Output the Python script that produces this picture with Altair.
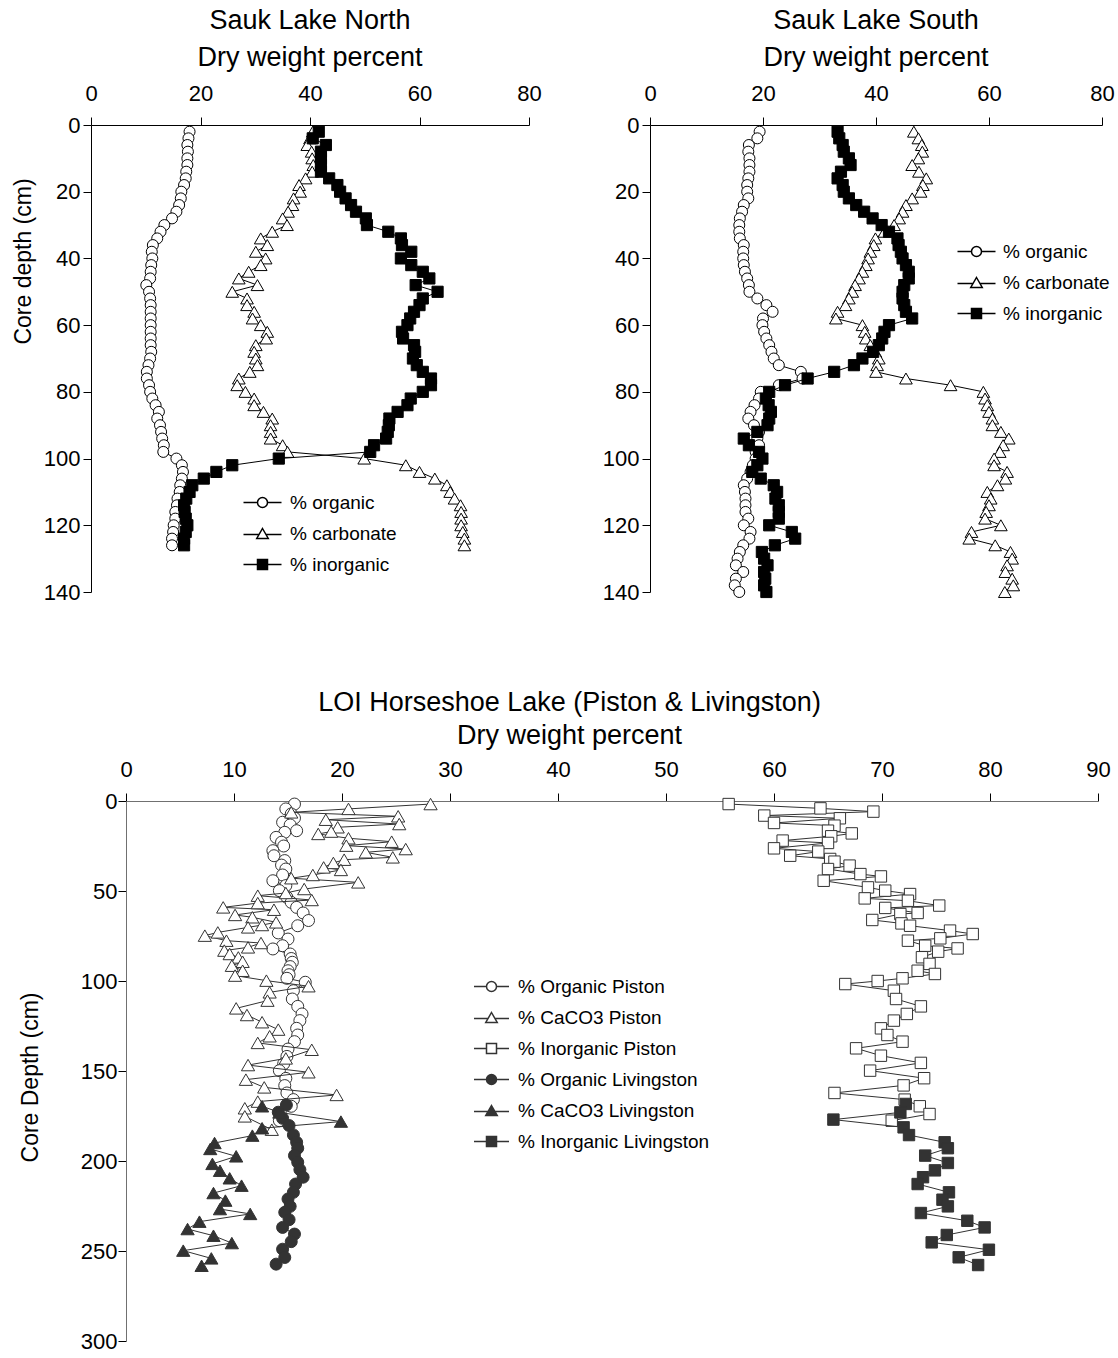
import altair as alt
import pandas as pd

FONT = "Liberation Sans"

# ---------------- Sauk Lake North ----------------
north_depth = list(range(2, 128, 2))
north_organic = [18.0, 17.8, 17.6, 17.7, 17.6, 17.6, 17.4, 17.3, 17.0, 16.5, 16.4, 16.1, 15.6, 14.8, 13.4, 12.7,
                 12.1, 11.3, 11.1, 11.2, 11.0, 10.9, 10.8, 10.1, 10.6, 10.8, 10.9, 10.9, 10.9, 10.9, 10.9, 10.9,
                 10.9, 11.0, 10.8, 10.5, 10.2, 10.2, 10.6, 10.8, 11.2, 11.8, 12.4, 12.1, 12.6, 12.8, 13.0, 13.3,
                 13.2, 15.6, 16.6, 16.8, 16.6, 16.3, 16.2, 15.8, 15.7, 15.4, 15.4, 15.1, 15.0, 14.8, 14.8]
north_carbonate = [40.5, 40.0, 39.5, 40.3, 40.4, 40.6, 40.4, 39.2, 38.0, 38.2, 37.0, 36.8, 36.0, 35.0, 35.8, 33.1,
                   31.0, 32.2, 30.1, 31.9, 31.0, 28.8, 27.0, 30.4, 25.8, 28.5, 28.5, 29.8, 29.5, 31.0, 32.2, 32.0,
                   30.1, 29.8, 30.1, 30.4, 29.0, 27.0, 26.7, 28.2, 29.8, 29.8, 31.5, 33.1, 32.8, 32.8, 32.8, 35.0,
                   35.9, 49.9, 57.5, 60.0, 62.8, 65.0, 65.6, 66.4, 67.5, 67.6, 67.6, 67.6, 67.9, 68.2, 68.2]
north_inorganic = [41.6, 40.5, 42.9, 42.0, 42.0, 42.0, 42.0, 43.5, 45.0, 45.5, 46.5, 47.5, 48.4, 50.2, 50.4, 54.3,
                   56.6, 56.8, 58.5, 56.6, 58.5, 60.6, 61.8, 59.3, 63.3, 60.6, 60.0, 59.0, 58.3, 57.8, 56.8, 57.0,
                   59.0, 59.2, 58.8, 59.5, 60.6, 62.1, 62.1, 60.6, 58.4, 57.8, 56.0, 54.5, 54.4, 54.2, 53.9, 51.7,
                   51.0, 34.3, 25.8, 22.9, 20.6, 18.5, 18.0, 17.4, 17.0, 17.1, 17.3, 17.6, 17.3, 17.0, 17.0]

# ---------------- Sauk Lake South ----------------
south_depth = list(range(2, 142, 2))
south_organic = [19.4, 19.0, 17.5, 17.4, 17.6, 17.6, 17.6, 17.4, 17.2, 17.2, 17.4, 16.6, 16.3, 15.9, 15.8, 15.8,
                 15.9, 16.6, 16.5, 16.5, 16.6, 16.8, 17.2, 17.5, 17.6, 19.0, 20.6, 21.7, 20.0, 19.9, 20.2, 20.6,
                 21.1, 21.5, 21.9, 22.8, 26.7, 27.0, 22.8, 19.6, 19.3, 18.5, 17.8, 17.4, 18.4, 19.3, 19.0, 19.3,
                 18.7, 18.7, 18.2, 17.8, 17.2, 16.6, 16.8, 16.9, 16.9, 16.9, 17.4, 16.6, 17.8, 17.6, 16.5, 15.9,
                 15.5, 15.2, 16.5, 15.2, 15.0, 15.8]
south_carbonate = [46.7, 47.5, 48.1, 48.2, 47.5, 46.4, 47.6, 48.9, 48.3, 47.9, 46.4, 45.3, 44.7, 44.1, 43.2, 41.5,
                   39.9, 39.6, 39.0, 38.6, 38.2, 37.6, 37.0, 36.3, 35.8, 35.2, 34.6, 33.2, 32.9, 37.6, 38.0, 38.2,
                   39.0, 39.9, 40.5, 40.2, 40.0, 45.3, 53.2, 59.0, 59.3, 59.7, 60.0, 60.6, 60.6, 62.1, 63.5, 62.5,
                   61.9, 60.9, 60.9, 63.2, 62.9, 61.5, 59.7, 60.3, 60.0, 59.5, 59.3, 62.1, 56.9, 56.5, 61.1, 63.8,
                   64.1, 63.2, 62.9, 64.1, 64.3, 62.8]
south_inorganic = [33.2, 33.5, 34.1, 34.3, 35.2, 35.5, 33.8, 33.2, 34.1, 34.3, 35.2, 36.5, 37.9, 39.4, 41.0, 42.3,
                   43.8, 44.0, 44.4, 44.7, 45.3, 45.8, 45.8, 45.0, 44.7, 44.7, 45.0, 45.3, 46.4, 42.3, 41.5, 41.1,
                   40.5, 39.5, 37.6, 36.1, 32.6, 27.9, 23.9, 21.1, 20.5, 21.0, 21.4, 21.1, 20.8, 19.0, 16.6, 17.5,
                   19.3, 19.9, 19.0, 18.1, 19.6, 21.9, 22.5, 22.2, 22.8, 22.8, 22.8, 21.1, 25.1, 25.7, 22.1, 19.8,
                   20.2, 20.8, 20.2, 20.4, 20.2, 20.6]

# ---------------- Horseshoe Lake ----------------
pis_org_depth = [1.7, 4.4, 7.2, 9.5, 11.8, 13.3, 16.5, 17.4, 20.2, 22.9, 25.0, 27.6, 30.4, 33.1, 35.6, 37.8, 41.1,
                 44.3, 47.0, 49.8, 53.5, 56.3, 59.1, 62.2, 66.4, 69.3, 73.3, 76.7, 80.4, 82.2, 85.0, 87.5, 89.6,
                 92.0, 94.3, 96.5, 98.5, 100.7, 105.4, 110.0, 114.1, 118.3, 122.0, 126.3, 130.0, 133.7, 137.8,
                 141.9, 146.0, 149.8, 154.1, 158.1, 162.2, 165.9, 169.6, 177.6]
pis_org = [15.6, 14.8, 15.3, 15.6, 14.5, 15.2, 15.8, 14.7, 13.9, 14.4, 14.6, 13.6, 13.7, 14.7, 14.4, 14.8, 14.5,
           13.6, 14.8, 14.2, 14.9, 15.3, 15.8, 16.4, 16.9, 15.9, 14.1, 15.0, 14.5, 13.6, 15.2, 15.3, 15.4, 15.2,
           15.0, 15.1, 14.9, 16.6, 15.5, 15.4, 15.9, 16.3, 16.1, 15.8, 15.9, 15.6, 15.0, 14.9, 14.6, 14.2, 14.8,
           14.7, 14.9, 15.5, 15.3, 14.2]
pis_ca_depth = [1.7, 4.4, 6.3, 8.5, 10.4, 12.8, 14.6, 17.0, 18.3, 20.7, 22.6, 24.8, 26.7, 28.5, 31.3, 32.6, 34.4,
                36.9, 38.3, 41.1, 42.9, 45.2, 48.9, 51.1, 52.6, 55.0, 56.7, 59.1, 60.4, 63.3, 64.6, 67.4, 68.9,
                70.2, 73.0, 74.8, 77.6, 78.9, 81.3, 83.1, 85.0, 86.9, 89.3, 91.5, 94.3, 97.0, 99.8, 102.9, 106.3,
                110.9, 115.2, 118.9, 122.9, 127.0, 130.7, 134.4, 138.2, 143.0, 146.7, 150.7, 154.8, 159.1, 163.3,
                167.0, 170.7, 175.2, 182.6]
pis_ca = [28.2, 20.6, 15.3, 25.2, 18.5, 25.3, 19.6, 19.0, 17.8, 20.6, 24.6, 20.4, 25.9, 22.2, 24.7, 20.2, 19.2,
          18.3, 19.9, 17.3, 15.3, 21.5, 16.5, 14.8, 12.2, 17.2, 12.2, 9.0, 13.7, 10.1, 11.7, 13.9, 12.6, 11.3,
          8.5, 7.3, 9.3, 12.5, 11.3, 9.1, 9.6, 10.4, 10.8, 9.8, 10.8, 10.1, 13.0, 16.9, 13.3, 13.1, 10.2, 11.2,
          12.6, 14.1, 13.3, 12.2, 17.2, 14.8, 11.3, 16.9, 11.1, 12.8, 19.5, 12.2, 11.0, 11.0, 13.5]
pis_in_depth = [1.7, 4.1, 5.9, 8.1, 9.6, 12.2, 13.7, 16.5, 18.0, 19.6, 22.0, 23.3, 26.3, 28.1, 30.4, 32.2, 33.7,
                35.9, 37.8, 40.6, 41.9, 44.3, 48.0, 49.8, 51.7, 54.1, 55.4, 58.1, 59.4, 62.2, 62.8, 66.1, 68.0,
                69.3, 72.0, 73.9, 76.3, 77.6, 80.4, 81.9, 83.7, 86.8, 90.5, 94.3, 96.1, 98.5, 100.0, 101.7, 105.4,
                110.0, 114.1, 118.3, 122.0, 126.3, 130.0, 133.7, 137.4, 141.5, 145.5, 149.8, 154.0, 158.0, 162.2,
                165.9, 169.6, 173.9, 177.6]
pis_in = [55.8, 64.3, 69.2, 59.1, 66.1, 60.0, 65.6, 65.0, 67.2, 65.3, 60.8, 65.0, 60.0, 64.1, 61.5, 65.2, 65.6,
          67.0, 65.0, 68.0, 69.9, 64.6, 68.7, 70.3, 72.6, 68.4, 72.4, 75.3, 70.3, 73.3, 71.7, 69.1, 71.8, 72.6,
          76.3, 78.4, 75.4, 72.4, 74.0, 77.0, 75.2, 73.7, 74.4, 73.3, 74.9, 71.9, 69.6, 66.6, 71.1, 71.3, 73.6,
          72.3, 71.1, 69.9, 70.5, 71.9, 67.6, 69.9, 73.6, 68.9, 73.9, 72.0, 65.6, 72.1, 73.5, 74.4, 70.9]
liv_org_depth = [168.9, 172.9, 176.3, 180.3, 185.5, 189.6, 192.9, 197.0, 200.7, 204.8, 209.0, 212.8, 217.4, 221.1,
                 225.2, 228.5, 232.6, 236.9, 240.6, 244.8, 249.0, 253.6, 257.3]
liv_org = [14.85, 14.1, 14.5, 15.1, 15.5, 15.8, 15.9, 15.6, 15.9, 16.1, 16.4, 15.7, 15.5, 15.0, 15.2, 14.7, 15.1,
           14.5, 15.6, 15.3, 14.5, 14.7, 13.9]
liv_ca_depth = [169.6, 173.0, 178.1, 181.8, 185.9, 190.0, 193.3, 197.4, 201.6, 205.4, 209.6, 213.7, 217.8, 222.0,
                226.7, 229.4, 233.7, 237.8, 241.5, 245.6, 249.8, 254.1, 258.2]
liv_ca = [12.6, 14.2, 19.9, 12.6, 11.7, 8.2, 7.8, 10.2, 8.0, 8.7, 9.6, 10.7, 8.1, 9.2, 8.7, 11.5, 6.8, 5.7, 8.1,
          9.8, 5.3, 7.9, 7.0]
liv_in_depth = [168.3, 173.0, 177.0, 181.3, 185.6, 189.6, 192.9, 197.0, 201.1, 205.2, 209.0, 212.8, 217.4, 221.5,
                225.2, 228.9, 233.2, 236.9, 241.1, 245.2, 249.3, 253.5, 257.8]
liv_in = [72.2, 71.7, 65.5, 72.0, 72.5, 75.8, 76.1, 74.0, 76.1, 74.9, 73.8, 73.3, 76.2, 75.6, 76.1, 73.6, 77.9,
          79.5, 76.0, 74.6, 79.9, 77.1, 78.9]


def fmt(v):
    return f"{v:.3f}"


def legend_path(shape, L, solid):
    """Line-through-marker legend glyph (unit coordinates); solid shapes are hatched densely."""
    parts = []
    hatch = [-0.9 + 0.15 * i for i in range(13)]
    if shape == "circle":
        parts.append(f"M{-L},0L-1,0M1,0L{L},0")
        parts.append("M-1,0A1,1,0,1,1,1,0A1,1,0,1,1,-1,0Z")
        if solid:
            for y in hatch:
                x = max(0.0, 1 - y * y) ** 0.5
                parts.append(f"M{fmt(-x)},{fmt(y)}L{fmt(x)},{fmt(y)}")
    elif shape == "triangle-up":
        parts.append(f"M{-L},0.2L-0.69,0.2M0.69,0.2L{L},0.2")
        parts.append("M0,-1L1.15,1L-1.15,1Z")
        if solid:
            for y in [-0.85 + 0.15 * i for i in range(13)]:
                hw = 1.15 * (y + 1) / 2
                parts.append(f"M{fmt(-hw)},{fmt(y)}L{fmt(hw)},{fmt(y)}")
    else:
        parts.append(f"M{-L},0L-1,0M1,0L{L},0")
        parts.append("M-1,-1L1,-1L1,1L-1,1Z")
        if solid:
            for y in hatch:
                parts.append(f"M-1,{fmt(y)}L1,{fmt(y)}")
    return "".join(parts)


def panel(series, xmax, xvals, ymax, yvals, title, ytitle, width, height, x_start,
          leg_x, leg_y, color, sizes, leg_size, L, label_off, row_pad, ytitle_pad, ytitle_y,
          ylabel_pad, y_offset, domain_color, title_dx, sub_pad, title_off):
    xenc = alt.X("value:Q", scale=alt.Scale(domain=[0, xmax], range=[x_start, width], nice=False, zero=False),
                 axis=alt.Axis(orient="top", values=xvals, title=None, grid=False, tickSize=8,
                               labelPadding=12, labelFontSize=22, domainColor=domain_color,
                               labelFlush=False))
    yaxis_kw = dict(values=yvals, grid=False, tickSize=8, labelPadding=ylabel_pad, labelFontSize=22,
                    domainColor=domain_color, labelFlush=False, offset=y_offset)
    if ytitle:
        yaxis_kw.update(title=ytitle, titleFontSize=23, titlePadding=ytitle_pad, titleY=ytitle_y)
    else:
        yaxis_kw.update(title=None)
    yenc = alt.Y("depth:Q", scale=alt.Scale(domain=[0, ymax], reverse=True, nice=False, zero=False),
                 axis=alt.Axis(**yaxis_kw))
    layers = []
    frames = []
    for name, depths, vals, shape, fill in series:
        df = pd.DataFrame({"depth": depths, "value": vals, "series": name})
        frames.append(df)
        layers.append(alt.Chart(df).mark_line(color=color, strokeWidth=1).encode(
            x=xenc, y=yenc, order=alt.Order("depth:Q")))
        layers.append(alt.Chart(df).mark_point(shape=shape, filled=True, fill=fill, stroke=color,
                                               strokeWidth=1, size=sizes[shape], opacity=1).encode(
            x=xenc, y=yenc))
    names = [s[0] for s in series]
    paths = [legend_path(s[3], L, s[4] != "white") for s in series]
    leg = alt.Legend(orient="none", legendX=leg_x, legendY=leg_y, title=None, labelFont=FONT,
                     labelFontSize=19, labelColor="black", labelOffset=label_off, rowPadding=row_pad,
                     labelLimit=0, padding=0)
    legend_layer = alt.Chart(pd.concat(frames)).transform_filter("false").mark_point(
        filled=False, stroke=color, strokeWidth=1, size=leg_size, opacity=1).encode(
        x=xenc, y=yenc,
        shape=alt.Shape("series:N", scale=alt.Scale(domain=names, range=paths), legend=leg))
    layers.append(legend_layer)
    return alt.layer(*layers).properties(
        width=width, height=height,
        title=alt.TitleParams(text=title, subtitle="Dry weight percent", fontSize=27, subtitleFontSize=27,
                              font=FONT, subtitleFont=FONT, fontWeight="normal",
                              subtitleFontWeight="normal", color="black", subtitleColor="black",
                              anchor="middle", subtitlePadding=sub_pad, offset=title_off, dx=title_dx))


top_sizes = {"circle": 121, "triangle-up": 160, "square": 125}
bot_sizes = {"circle": 144, "triangle-up": 175, "square": 130}

north = panel(
    [("% organic", north_depth, north_organic, "circle", "white"),
     ("% carbonate", north_depth, north_carbonate, "triangle-up", "white"),
     ("% inorganic", north_depth, north_inorganic, "square", "black")],
    80, [0, 20, 40, 60, 80], 140, [0, 20, 40, 60, 80, 100, 120, 140],
    "Sauk Lake North", "Core depth (cm)", 438, 467, 0,
    162, 368, "black", top_sizes, 121, 3.8, 18, 11, 8, 136, 3, 0, "black", 0, 10, 10)

south = panel(
    [("% organic", south_depth, south_organic, "circle", "white"),
     ("% carbonate", south_depth, south_carbonate, "triangle-up", "white"),
     ("% inorganic", south_depth, south_inorganic, "square", "black")],
    80, [0, 20, 40, 60, 80], 140, [0, 20, 40, 60, 80, 100, 120, 140],
    "Sauk Lake South", None, 452, 467, 0,
    317, 117, "black", top_sizes, 121, 3.8, 17, 11, 8, 0, 3, 0, "black", 0, 10, 10)

bottom = panel(
    [("% Organic Piston", pis_org_depth, pis_org, "circle", "white"),
     ("% CaCO3 Piston", pis_ca_depth, pis_ca, "triangle-up", "white"),
     ("% Inorganic Piston", pis_in_depth, pis_in, "square", "white"),
     ("% Organic Livingston", liv_org_depth, liv_org, "circle", "#333333"),
     ("% CaCO3 Livingston", liv_ca_depth, liv_ca, "triangle-up", "#333333"),
     ("% Inorganic Livingston", liv_in_depth, liv_in, "square", "#333333")],
    90, list(range(0, 100, 10)), 300, [0, 50, 100, 150, 200, 250, 300],
    "LOI Horseshoe Lake (Piston & Livingston)", "Core Depth (cm)", 1007, 540, 35,
    391, 176, "#333333", bot_sizes, 144, 3.5, 17, 11, 38, 276, 1, -35, "#707070", -25, 6, 8)

top_row = alt.hconcat(north, south, spacing=60).resolve_scale(
    shape="independent").resolve_legend(shape="independent")

chart = alt.vconcat(top_row, bottom, spacing=86).resolve_scale(
    shape="independent").resolve_legend(shape="independent").properties(
    padding={"left": 12, "top": 7, "right": 2, "bottom": 0}
).configure_view(stroke=None).configure_axis(
    labelFont=FONT, titleFont=FONT, labelColor="black", titleColor="black",
    tickColor="black", titleFontWeight="normal"
)

chart.save("out.html", embed_options={"renderer": "svg", "actions": False})
